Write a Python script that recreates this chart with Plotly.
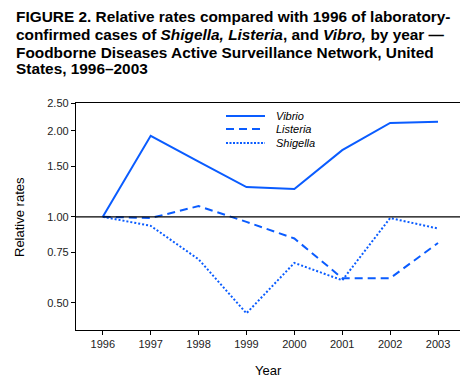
import plotly.graph_objects as go
import math

years = [1996, 1997, 1998, 1999, 2000, 2001, 2002, 2003]
vibrio = [1.00, 1.92, 1.56, 1.27, 1.25, 1.71, 2.13, 2.15]
listeria = [1.00, 0.99, 1.09, 0.96, 0.84, 0.61, 0.61, 0.81]
shigella = [1.00, 0.93, 0.71, 0.46, 0.69, 0.60, 0.99, 0.91]
ytick_vals = [0.5, 0.75, 1.0, 1.5, 2.0, 2.5]
ytick_text = ["0.50", "0.75", "1.00", "1.50", "2.00", "2.50"]

BLUE = "#0a5cff"
FONT = "Liberation Sans, Arial, Helvetica, sans-serif"

fig = go.Figure()
series = [("Vibrio", vibrio, "solid"), ("Listeria", listeria, "8px,5px"), ("Shigella", shigella, "2px,2px")]
for name, vals, dash in series:
    fig.add_trace(go.Scatter(x=years, y=vals, mode="lines", name=name,
                             line=dict(color=BLUE, width=2, dash=dash), showlegend=False))

W, H = 468, 377
L, R, T, B = 68, 15, 95, 55
pw, ph = W - L - R, H - T - B

def px(x):
    return (x - L) / pw

def py(y):
    return (H - B - y) / ph

shapes = [
    dict(type="line", xref="paper", yref="y", x0=0, x1=1, y0=1, y1=1,
         line=dict(color="black", width=1.3)),
]
annotations = []
leg_rows = [108, 121, 135]
leg_dash = ["solid", "8px,5px", "2px,1.5px"]
for (name, vals, dash), yy, ld in zip(series, leg_rows, leg_dash):
    shapes.append(dict(type="line", xref="paper", yref="paper", x0=px(218), x1=px(257),
                       y0=py(yy), y1=py(yy), line=dict(color=BLUE, width=2, dash=ld)))
    annotations.append(dict(xref="paper", yref="paper", x=px(266), y=py(yy), xanchor="left",
                            yanchor="middle", text="<i>%s</i>" % name, showarrow=False,
                            font=dict(family=FONT, size=11, color="black")))

title_lines = [
    "<b>FIGURE 2. Relative rates compared with 1996 of laboratory-</b>",
    "<b>confirmed cases of <i>Shigella, Listeria</i>, and <i>Vibro,</i> by year \u2014</b>",
    "<b>Foodborne Diseases Active Surveillance Network, United</b>",
    "<b>States, 1996\u20132003</b>",
]
title_y = [9, 26.5, 44, 61]
for t, yy in zip(title_lines, title_y):
    annotations.append(dict(xref="paper", yref="paper", x=px(6), y=py(yy), xanchor="left",
                            yanchor="middle", text=t, showarrow=False,
                            font=dict(family=FONT, size=15.4, color="black")))

# axis titles
annotations.append(dict(xref="paper", yref="paper", x=px(11), y=py(209), xanchor="center",
                        yanchor="middle", text="Relative rates", textangle=-90, showarrow=False,
                        font=dict(family=FONT, size=13, color="black")))
annotations.append(dict(xref="paper", yref="paper", x=px(260), y=py(362), xanchor="center",
                        yanchor="middle", text="Year", showarrow=False,
                        font=dict(family=FONT, size=13, color="black")))

fig.update_layout(
    width=W, height=H,
    margin=dict(l=L, r=R, t=T, b=B),
    paper_bgcolor="white", plot_bgcolor="white",
    font=dict(family=FONT, color="black"),
    shapes=shapes, annotations=annotations,
    xaxis=dict(range=[1995.44, 2003.48], tickvals=years, ticks="outside", ticklen=4,
               tickcolor="black", showline=True, linecolor="black", linewidth=1.3, mirror=True,
               showgrid=False, zeroline=False, tickfont=dict(size=11, color="#222"),
               automargin=False),
    yaxis=dict(type="log", range=[math.log10(0.402), math.log10(2.5)], tickvals=ytick_vals,
               ticktext=ytick_text, ticks="outside", ticklen=4, tickcolor="black",
               showline=True, linecolor="black", linewidth=1.3, mirror=True,
               showgrid=False, zeroline=False, tickfont=dict(size=11, color="#222"),
               automargin=False),
)

fig.write_html("out.html")
